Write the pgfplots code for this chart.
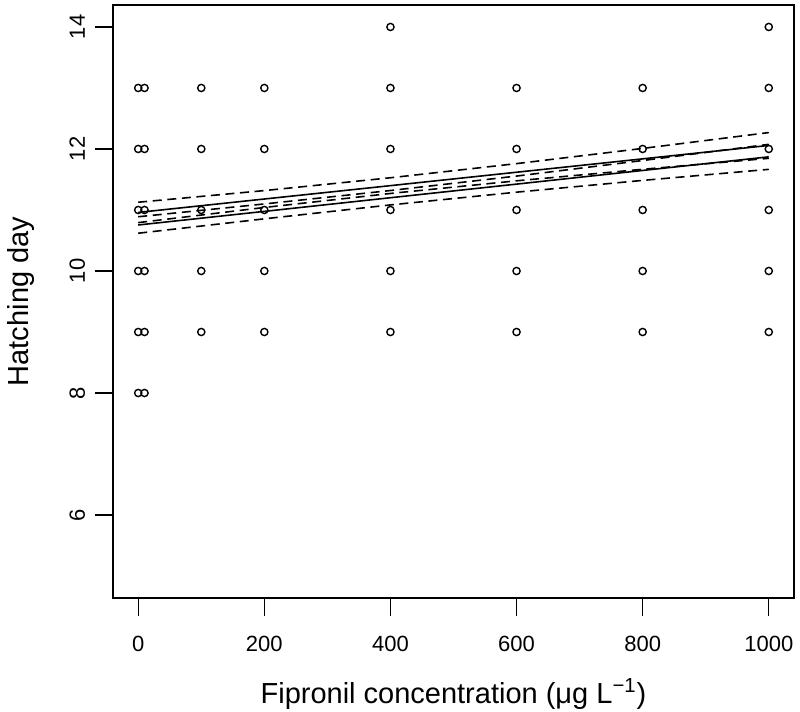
\documentclass[border=0pt]{standalone}
\usepackage{fontspec}
\setmainfont{Liberation Sans}
\usepackage{pgfplots}
\pgfplotsset{compat=1.18}

\begin{document}
\begin{tikzpicture}
\useasboundingbox (-56.5pt,-57pt) rectangle (343.5pt,299pt);
\begin{axis}[
    scale only axis,
    width=340.5pt,
    height=296.5pt,
    xmin=-40, xmax=1040,
    ymin=4.64, ymax=14.36,
    xtick={0,200,400,600,800,1000},
    ytick={6,8,10,12,14},
    xtick pos=bottom,
    ytick pos=left,
    tick align=outside,
    major tick length=9pt,
    tick style={black, line width=0.7pt},
    axis line style={line width=0.75pt},
    /pgf/number format/assume math mode=true,
    /pgf/number format/1000 sep={},
    ticklabel style={font=\fontsize{11}{13}\selectfont},
    xticklabel style={anchor=base, yshift=-18pt},
    yticklabel style={xshift=-5pt, rotate=90, anchor=base},
    every axis x label/.style={at={(axis description cs:0.5,0)}, anchor=base, yshift=-52.6pt, font=\fontsize{14.5}{17}\selectfont},
    every axis y label/.style={at={(axis description cs:0,0.5)}, xshift=-42pt, rotate=90, anchor=base, font=\fontsize{14.5}{17}\selectfont},
    xlabel={Fipronil concentration (μg L\textsuperscript{−1})},
    ylabel={Hatching day},
]
% observations
\addplot[only marks, mark=o, mark size=1.8pt, mark options={line width=0.7pt, black}] coordinates {
(0,8) (0,9) (0,10) (0,11) (0,12) (0,13)
(10,8) (10,9) (10,10) (10,11) (10,12) (10,13)
(100,9) (100,10) (100,11) (100,12) (100,13)
(200,9) (200,10) (200,11) (200,12) (200,13)
(400,9) (400,10) (400,11) (400,12) (400,13) (400,14)
(600,9) (600,10) (600,11) (600,12) (600,13)
(800,9) (800,10) (800,11) (800,12) (800,13)
(1000,9) (1000,10) (1000,11) (1000,12) (1000,13) (1000,14)
};
% fit A
\addplot[black, line width=0.8pt] coordinates {(0,10.960) (200,11.180) (400,11.399) (600,11.619) (800,11.838) (1000,12.058)};
\addplot[black, line width=0.8pt, dash pattern=on 4.5pt off 2.8pt] coordinates {(0,11.127) (200,11.318) (400,11.528) (600,11.760) (800,12.009) (1000,12.269)};
\addplot[black, line width=0.8pt, dash pattern=on 4.5pt off 2.8pt] coordinates {(0,10.793) (200,11.041) (400,11.271) (600,11.478) (800,11.667) (1000,11.847)};
% fit B
\addplot[black, line width=0.8pt] coordinates {(0,10.754) (200,10.977) (400,11.201) (600,11.424) (800,11.648) (1000,11.871)};
\addplot[black, line width=0.8pt, dash pattern=on 4.5pt off 2.8pt] coordinates {(0,10.889) (200,11.099) (400,11.319) (600,11.556) (800,11.811) (1000,12.076)};
\addplot[black, line width=0.8pt, dash pattern=on 4.5pt off 2.8pt] coordinates {(0,10.619) (200,10.855) (400,11.083) (600,11.292) (800,11.485) (1000,11.666)};
\end{axis}
\end{tikzpicture}
\end{document}
